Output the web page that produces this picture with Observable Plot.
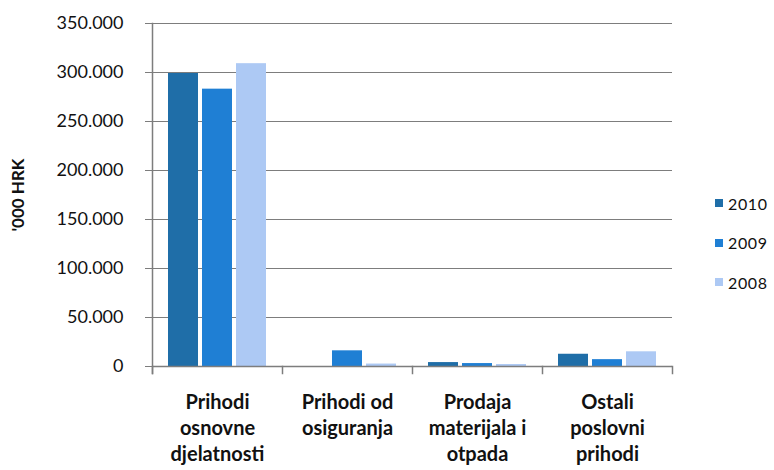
<!DOCTYPE html>
<html>
<head>
<meta charset="utf-8">
<script src="https://cdn.jsdelivr.net/npm/d3@7"></script>
<script src="https://cdn.jsdelivr.net/npm/@observablehq/plot@0.6"></script>
<style>
  html, body { margin: 0; padding: 0; background: #fff; }
  #wrap { position: relative; width: 774px; height: 470px; font-family: Lato, "Open Sans", sans-serif; }
  #legend { position: absolute; left: 715px; top: 191px; }
  .item { display: flex; align-items: center; height: 24px; margin-bottom: 15.5px; font-size: 16px; letter-spacing: 0.6px; color: #111; }
  .sw { width: 8px; height: 8px; margin-right: 5px; }
  svg [aria-label="y-axis label"] text, svg g[aria-label="y-axis label"] { font-weight: bold; font-size: 17px; }
</style>
</head>
<body>
<div id="wrap"></div>
<script>
const categories = ["Prihodi osnovne djelatnosti", "Prihodi od osiguranja", "Prodaja materijala i otpada", "Ostali poslovni prihodi"];
const categoryLabels = ["Prihodi\nosnovne\ndjelatnosti", "Prihodi od\nosiguranja", "Prodaja\nmaterijala i\notpada", "Ostali\nposlovni\nprihodi"];
const years = ["2010", "2009", "2008"];
const values2010 = [299000, 0, 4000, 12500];
const values2009 = [283000, 16000, 3000, 7000];
const values2008 = [309000, 2500, 2000, 15000];
const yTicks = [0, 50000, 100000, 150000, 200000, 250000, 300000, 350000];
const colors = ["#1f6ea8", "#1f7fd4", "#adc9f4"];

const series = {"2010": values2010, "2009": values2009, "2008": values2008};
const data = [];
categories.forEach((c, i) => years.forEach(y => data.push({cat: c, year: y, value: series[y][i]})));

const fmt = d3.formatLocale({decimal: ",", thousands: ".", grouping: [3], currency: ["", ""]}).format(",");
const labelOf = new Map(categories.map((c, i) => [c, categoryLabels[i]]));
const gray = "#7d7d7d";

const plot = Plot.plot({
  width: 774,
  height: 470,
  marginLeft: 151,
  marginRight: 102,
  marginTop: 23,
  marginBottom: 104,
  style: {fontFamily: "Lato, 'Open Sans', sans-serif", fontSize: "17px", color: "#111", background: "#fff"},
  fx: {domain: categories, padding: 0, label: null, axis: null},
  x: {domain: years, paddingInner: 0.12, paddingOuter: 0.47, axis: null},
  y: {domain: [0, 350000], label: null},
  color: {domain: years, range: colors},
  marks: [
    Plot.gridY(yTicks, {stroke: gray, strokeOpacity: 1, strokeWidth: 1.2}),
    Plot.barY(data, {fx: "cat", x: "year", y: "value", fill: "year"}),
    Plot.ruleY([0], {stroke: gray, strokeWidth: 1.5}),
    Plot.frame({anchor: "left", facetAnchor: "left", stroke: gray, strokeWidth: 1.5, insetBottom: -7}),
    Plot.frame({anchor: "left", stroke: gray, strokeWidth: 1.5, insetTop: 343, insetBottom: -7}),
    Plot.frame({anchor: "right", facetAnchor: "right", stroke: gray, strokeWidth: 1.5, insetTop: 343, insetBottom: -7}),
    Plot.axisY(yTicks, {
      tickSize: 7, tickPadding: 22, tickFormat: fmt, stroke: gray, fill: "#111",
      fontSize: 18, label: "'000 HRK", labelAnchor: "center", labelOffset: 141, labelArrow: false
    }),
    Plot.axisFx({
      anchor: "bottom", tickSize: 0, tickPadding: 24, tickFormat: d => labelOf.get(d), fontSize: 20, fontWeight: "bold",
      lineHeight: 1.3, label: null, fill: "#111"
    })
  ]
});
document.getElementById("wrap").appendChild(plot);

const legend = document.createElement("div");
legend.id = "legend";
years.forEach((y, i) => {
  const it = document.createElement("div");
  it.className = "item";
  const sw = document.createElement("span");
  sw.className = "sw";
  sw.style.background = colors[i];
  it.appendChild(sw);
  it.appendChild(document.createTextNode(y));
  legend.appendChild(it);
});
document.getElementById("wrap").appendChild(legend);
</script>
</body>
</html>
